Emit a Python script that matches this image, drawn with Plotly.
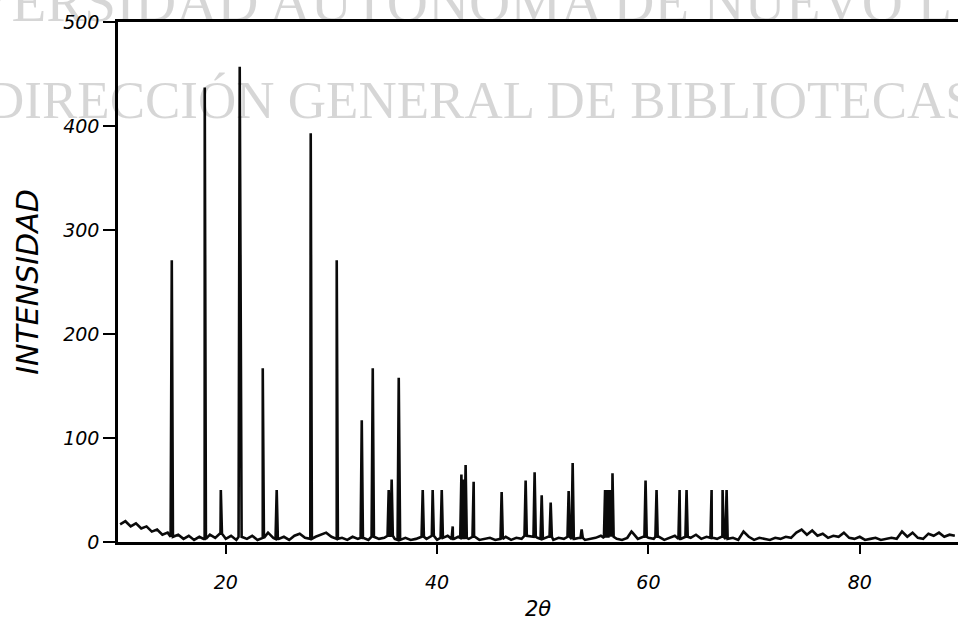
import plotly.graph_objects as go

# ---- data (2-theta in degrees, intensity counts) ----
base_start = 10.0
base_step = 0.5
baseline = [17, 20, 15, 18, 13, 15, 10, 12, 7, 9,
            5, 7, 3, 6, 2, 5, 3, 7, 4, 8,
            3, 6, 2, 5, 3, 6, 2, 4, 9, 4,
            3, 5, 2, 6, 8, 4, 3, 5, 7, 9,
            5, 3, 4, 2, 5, 3, 4, 2, 5, 3,
            4, 6, 3, 2, 4, 2, 3, 5, 3, 6,
            2, 4, 6, 3, 5, 4, 3, 5, 2, 3,
            4, 2, 3, 5, 2, 4, 3, 6, 5, 4,
            3, 5, 2, 4, 3, 5, 3, 4, 2, 3,
            4, 6, 4, 5, 3, 2, 4, 9, 3, 5,
            4, 3, 5, 2, 4, 6, 3, 5, 4, 7,
            3, 5, 4, 3, 5, 3, 4, 2, 10, 5,
            2, 4, 3, 2, 4, 3, 5, 4, 9, 12,
            7, 11, 6, 8, 4, 6, 5, 9, 4, 3,
            5, 2, 3, 4, 2, 3, 4, 3, 10, 5,
            9, 4, 3, 8, 6, 9, 5, 7, 6]

peak_pos = [14.89, 18.01, 19.53, 21.32, 23.50, 24.82, 28.04, 30.50, 32.87, 33.91,
            35.42, 35.70, 36.37, 38.64, 39.58, 40.44, 41.48, 42.30, 42.45, 42.70,
            43.46, 46.11, 48.38, 49.23, 49.90, 50.75, 52.45, 52.83, 53.68, 55.90,
            56.10, 56.30, 56.45, 56.60, 58.40, 59.73, 60.77, 62.95, 63.61, 65.98,
            67.02, 67.40]
peak_int = [271, 437, 50, 457, 167, 50, 393, 271, 117, 167,
            50, 60, 158, 50, 50, 50, 15, 65, 60, 74,
            58, 48, 59, 67, 45, 38, 49, 76, 12, 50,
            50, 50, 50, 66, 10, 59, 50, 50, 50, 50,
            50, 50]

x_ticks = [20, 40, 60, 80]
y_ticks = [0, 100, 200, 300, 400, 500]

# ---- build the diffractogram profile: noisy baseline with sharp reflections ----
base_x = [base_start + base_step * i for i in range(len(baseline))]
pts = list(zip(base_x, baseline))
half = 0.11
for p, h in zip(peak_pos, peak_int):
    i = min(range(len(base_x)), key=lambda k: abs(base_x[k] - p))
    b = baseline[i]
    pts += [(p - half, b), (p, h), (p + half, b)]
pts.sort(key=lambda t: t[0])
xs = [t[0] for t in pts]
ys = [t[1] for t in pts]

fig = go.Figure()
fig.add_trace(go.Scatter(x=xs, y=ys, mode="lines",
                         line=dict(color="#0a0a0a", width=2.6),
                         hoverinfo="skip", showlegend=False))

tick_font = dict(family="DejaVu Sans", size=19, color="black", style="italic")

fig.update_layout(
    width=958, height=622,
    margin=dict(l=118, r=0, t=22, b=80, autoexpand=False),
    paper_bgcolor="white", plot_bgcolor="white",
    xaxis=dict(range=[9.8, 89.3], tickvals=x_ticks, ticks="outside", ticklen=9,
               tickwidth=2, tickcolor="black", showline=True, linewidth=2.5,
               linecolor="black", mirror=True, showgrid=False, zeroline=False,
               tickfont=tick_font, ticklabelstandoff=12,
               title=dict(text="2θ", font=dict(family="DejaVu Sans", size=21,
                                               color="black", style="italic"),
                          standoff=10)),
    yaxis=dict(range=[0, 500], tickvals=y_ticks, ticks="outside", ticklen=12,
               tickwidth=2, tickcolor="black", showline=True, linewidth=2.5,
               linecolor="black", showgrid=False, zeroline=False,
               tickfont=tick_font,
               title=dict(text="INTENSIDAD", font=dict(family="DejaVu Sans", size=30,
                                                        color="black", style="italic"),
                          standoff=16)),
)

fig.add_annotation(text="UNIVERSIDAD AUTÓNOMA DE NUEVO LEÓN", xref="paper", yref="paper",
                   x=0.418, y=1.04, xanchor="center", yanchor="middle",
                   showarrow=False,
                   font=dict(family="Liberation Serif", size=57, color="rgba(0,0,0,0.16)"))
fig.add_annotation(text="DIRECCIÓN GENERAL DE BIBLIOTECAS", xref="paper", yref="paper",
                   x=0.431, y=0.85, xanchor="center", yanchor="middle",
                   showarrow=False,
                   font=dict(family="Liberation Serif", size=53, color="rgba(0,0,0,0.16)"))

fig.write_html("out.html", config={"displayModeBar": False},
               post_script="document.body.style.margin='0px';")
